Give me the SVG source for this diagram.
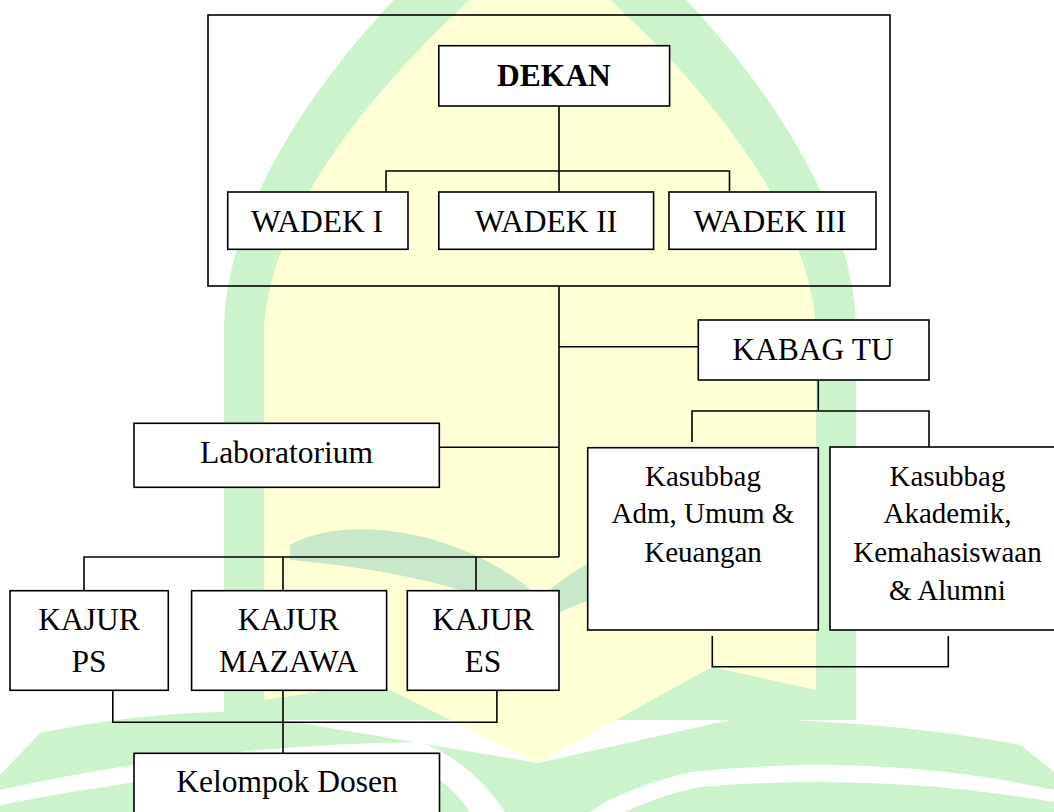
<svg xmlns="http://www.w3.org/2000/svg" width="1054" height="812" viewBox="0 0 1054 812">
<style>
.box{fill:#fff;stroke:#000;stroke-width:1.6}
.frame{fill:none;stroke:#000;stroke-width:1.6}
.ln{fill:none;stroke:#000;stroke-width:1.6}
text{font-family:"Liberation Serif","Times New Roman",serif;fill:#000;text-anchor:middle}
.t{font-size:31.5px}
.s{font-size:29px}
.b{font-weight:bold}
.g{fill:#cdf3cd}
.g2{fill:#c9e7c9}
.y{fill:#ffffd6}
</style>
<rect width="1054" height="812" fill="#fff"/>
<g id="watermark">
<path class="g" d="M224,720 L224,330 C224,200 340,20 540,-130 C740,20 856,200 856,330 L856,720 Z"/>
<path class="y" d="M264,700 L264,338 C264,210 390,60 540,-60 C690,60 816,210 816,338 L816,690 L712,667 L538,763 L376,683 Z"/>
<path class="g2" d="M290,545 C340,515 460,525 540,598 L540,622 C470,585 380,568 290,560 Z"/>
<path class="g2" d="M790,545 C740,515 620,525 540,598 L540,622 C610,585 700,568 790,560 Z"/>
<path class="g" d="M0,812 L0,775 L40,733 Q140,712 235,712 L538,763 L739,718 Q900,722 1021,745 L1054,772 L1054,812 Z"/>
<path fill="#fff" d="M0,790 Q200,745 420,742 Q470,760 505,812 L470,812 Q440,770 400,760 Q200,765 0,805 Z"/>
<path fill="#fff" d="M1054,790 Q880,752 690,772 Q620,790 590,812 L625,812 Q660,795 700,787 Q880,772 1054,802 Z"/>
</g>
<g id="connectors">
<path class="ln" d="M559,106 V192"/>
<path class="ln" d="M386,192 V171 H729.5 V192"/>
<path class="ln" d="M559,286 V557"/>
<path class="ln" d="M559,346.7 H698.3"/>
<path class="ln" d="M439.3,447.3 H559"/>
<path class="ln" d="M84,590.7 V557 H559"/>
<path class="ln" d="M283,557 V590.7"/>
<path class="ln" d="M476,557 V590.7"/>
<path class="ln" d="M818.3,380 V411"/>
<path class="ln" d="M692,442 V411 H929 V447"/>
<path class="ln" d="M712.3,636 V666.7 H948.3 V636"/>
<path class="ln" d="M112.8,690.3 V722.3 H496.9 V690.3"/>
<path class="ln" d="M283,690.3 V753.3"/>
</g>
<rect class="frame" x="208" y="15" width="682" height="271"/>
<g id="dekan"><rect class="box" x="438.8" y="45.7" width="230.8" height="60.3"/><text class="t b" x="554" y="86">DEKAN</text></g>
<g id="wadek1"><rect class="box" x="227.7" y="192" width="180.3" height="57.3"/><text class="t" x="317" y="232">WADEK I</text></g>
<g id="wadek2"><rect class="box" x="438.8" y="192" width="214.8" height="57.3"/><text class="t" x="546" y="232">WADEK II</text></g>
<g id="wadek3"><rect class="box" x="669" y="192" width="207" height="57.3"/><text class="t" x="770" y="232">WADEK III</text></g>
<g id="kabag"><rect class="box" x="698.3" y="320" width="230.7" height="60"/><text class="t" x="813" y="360">KABAG TU</text></g>
<g id="lab"><rect class="box" x="134" y="423.3" width="305.3" height="64"/><text class="t" x="286.5" y="462.7">Laboratorium</text></g>
<g id="kasubbag1"><rect class="box" x="587.7" y="447.7" width="230.6" height="182.3"/><text class="s" x="703" y="485.5">Kasubbag</text><text class="s" x="703" y="523">Adm, Umum &amp;</text><text class="s" x="703" y="561.5">Keuangan</text></g>
<g id="kasubbag2"><rect class="box" x="830" y="447" width="236" height="183"/><text class="s" x="947.5" y="485.5">Kasubbag</text><text class="s" x="947.5" y="523">Akademik,</text><text class="s" x="947.5" y="561.5">Kemahasiswaan</text><text class="s" x="947.5" y="600">&amp; Alumni</text></g>
<g id="kajurps"><rect class="box" x="10" y="590.7" width="158.3" height="99.6"/><text class="t" x="89" y="630">KAJUR</text><text class="t" x="89" y="672.3">PS</text></g>
<g id="kajurmazawa"><rect class="box" x="191.6" y="590.7" width="195" height="99.6"/><text class="t" x="288.5" y="630">KAJUR</text><text class="t" x="288.5" y="672.3">MAZAWA</text></g>
<g id="kajures"><rect class="box" x="407.3" y="590.7" width="151.7" height="99.6"/><text class="t" x="483" y="630">KAJUR</text><text class="t" x="483" y="672.3">ES</text></g>
<g id="kelompok"><rect class="box" x="134" y="753.3" width="305.5" height="80"/><text class="t" x="287" y="791.7">Kelompok Dosen</text></g>
</svg>
